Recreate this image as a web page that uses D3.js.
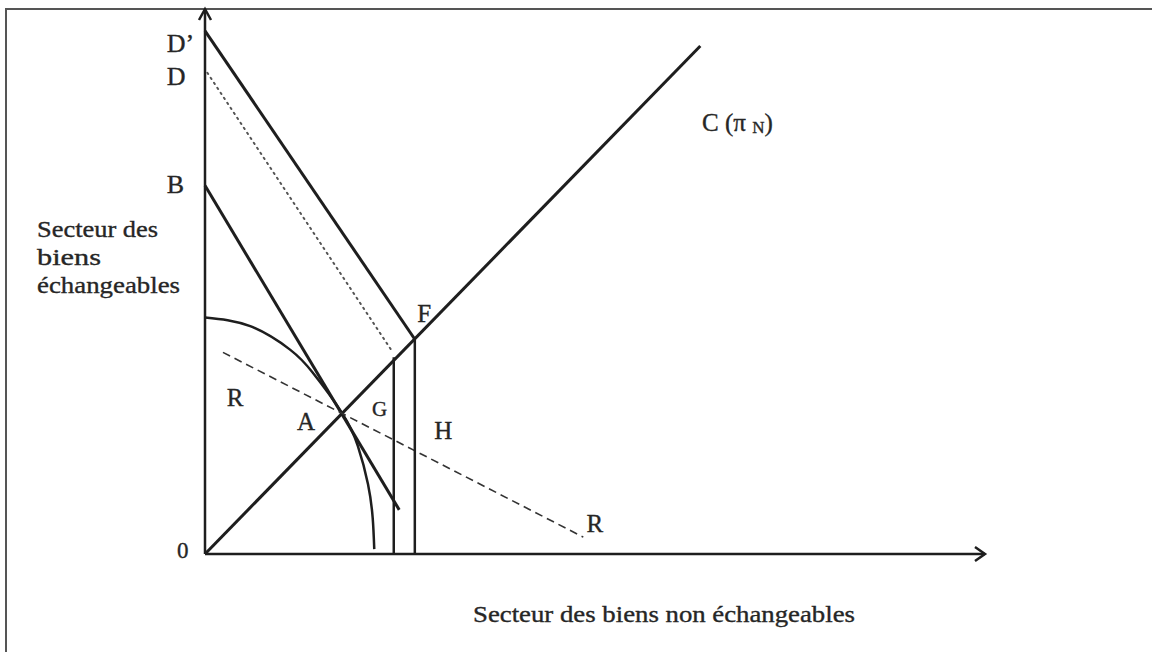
<!DOCTYPE html>
<html><head><meta charset="utf-8">
<script src="https://cdn.jsdelivr.net/npm/d3@7"></script>
<style>body{margin:0;background:#fff}svg{display:block}text{fill:#262626;stroke:#262626;stroke-width:0.35px}</style>
</head><body><svg id="c" width="1152" height="652"></svg>
<script>
// data units: x 0..100 along horizontal axis, y 0..100 along vertical axis
const lineDprime = [[0, 96.0], [26.9, 39.4]];           // D' -> F
const lineD = [[0.3, 88.3], [23.9, 37.4]];              // D (dotted)
const lineB = [[0, 67.6], [24.9, 8.1]];                 // B
const lineC = [[0, 0], [63.5, 93.2]];                   // C (pi N)
const lineR = [[2.3, 37.0], [48.5, 3.1]];               // R - R (dashed)
const vertG = [[24.2, 0], [24.2, 36.1]];
const vertF = [[26.9, 0], [26.9, 39.4]];
const curvePts = [[0, 43.4], [5.8, 41.8], [10.9, 37.5], [13.8, 33.3], [17.6, 25.8], [19.6, 19.8], [20.9, 12.8], [21.5, 6.6], [21.7, 0.9]];
const pointLabels = [
  {t: "D\u2019", x: -4.9, y: 92.2, s: 26},
  {t: "D", x: -4.9, y: 86.1, s: 26},
  {t: "B", x: -4.9, y: 66.3, s: 26},
  {t: "0", x: -3.6, y: -0.7, s: 23},
  {t: "R", x: 2.8, y: 27.1, s: 25},
  {t: "A", x: 11.8, y: 22.7, s: 25},
  {t: "G", x: 21.4, y: 25.3, s: 21},
  {t: "H", x: 29.4, y: 21.1, s: 25},
  {t: "F", x: 27.2, y: 42.5, s: 25},
  {t: "R", x: 48.9, y: 4.0, s: 25}
];
const yTitle = ["Secteur des", "biens", "\u00e9changeables"];
const xTitle = "Secteur des biens non \u00e9changeables";

const FONT = "'Liberation Serif', 'Times New Roman', Times, serif";
const svg = d3.select("#c");
const x = d3.scaleLinear().domain([0, 100]).range([205, 985]);
const y = d3.scaleLinear().domain([0, 100]).range([554, 9]);
const ink = "#1e1e1e";

// frame
svg.append("line").attr("x1", 6).attr("y1", 9).attr("x2", 1152).attr("y2", 9).attr("stroke", "#555").attr("stroke-width", 2);
svg.append("line").attr("x1", 6).attr("y1", 8).attr("x2", 6).attr("y2", 652).attr("stroke", "#555").attr("stroke-width", 2);

const line = d3.line().x(d => x(d[0])).y(d => y(d[1]));
function seg(pts, w, dash, col) {
  const p = svg.append("path").attr("d", line(pts)).attr("fill", "none")
    .attr("stroke", col || ink).attr("stroke-width", w);
  if (dash) p.attr("stroke-dasharray", dash);
  return p;
}

// axes
seg([[0, 0], [0, 100]], 2.5);
seg([[0, 0], [100, 0]], 2.5);
svg.append("path").attr("d", `M${x(0)-6},${y(100)+11}L${x(0)},${y(100)}L${x(0)+6},${y(100)+11}`).attr("fill", "none").attr("stroke", ink).attr("stroke-width", 2.5);
svg.append("path").attr("d", `M${x(100)-10},${y(0)-7}L${x(100)},${y(0)}L${x(100)-10},${y(0)+7}`).attr("fill", "none").attr("stroke", ink).attr("stroke-width", 2.5);

// curve
svg.append("path").attr("d", d3.line().x(d => x(d[0])).y(d => y(d[1])).curve(d3.curveNatural)(curvePts))
  .attr("fill", "none").attr("stroke", ink).attr("stroke-width", 2.5);

seg(lineDprime, 3);
seg(lineD, 2, "1.5,4.5", "#555").attr("stroke-linecap", "round");
seg(lineB, 3);
seg(lineC, 3);
seg(lineR, 1.6, "8,5", "#333");
seg(vertG, 2.5);
seg(vertF, 2.5);

// point labels
pointLabels.forEach(l => {
  svg.append("text").attr("font-family", FONT).attr("x", x(l.x)).attr("y", y(l.y)).attr("font-size", l.s).text(l.t);
});

// C (pi N)
const ct = svg.append("text").attr("font-family", FONT).attr("x", 702).attr("y", 131).attr("font-size", 25);
ct.append("tspan").text("C (\u03c0 ");
ct.append("tspan").attr("font-size", 17).attr("dy", 2).text("N");
ct.append("tspan").attr("dy", -2).text(")");

// axis titles
yTitle.forEach((t, i) => {
  const tl = [121, 64, 143][i];
  svg.append("text").attr("font-family", FONT).attr("x", 37).attr("y", 237 + i * 28).attr("font-size", 24)
    .attr("textLength", tl).attr("lengthAdjust", "spacingAndGlyphs").text(t);
});
svg.append("text").attr("font-family", FONT).attr("x", 473).attr("y", 622).attr("font-size", 23)
  .attr("textLength", 382).attr("lengthAdjust", "spacingAndGlyphs").text(xTitle);
</script></body></html>
